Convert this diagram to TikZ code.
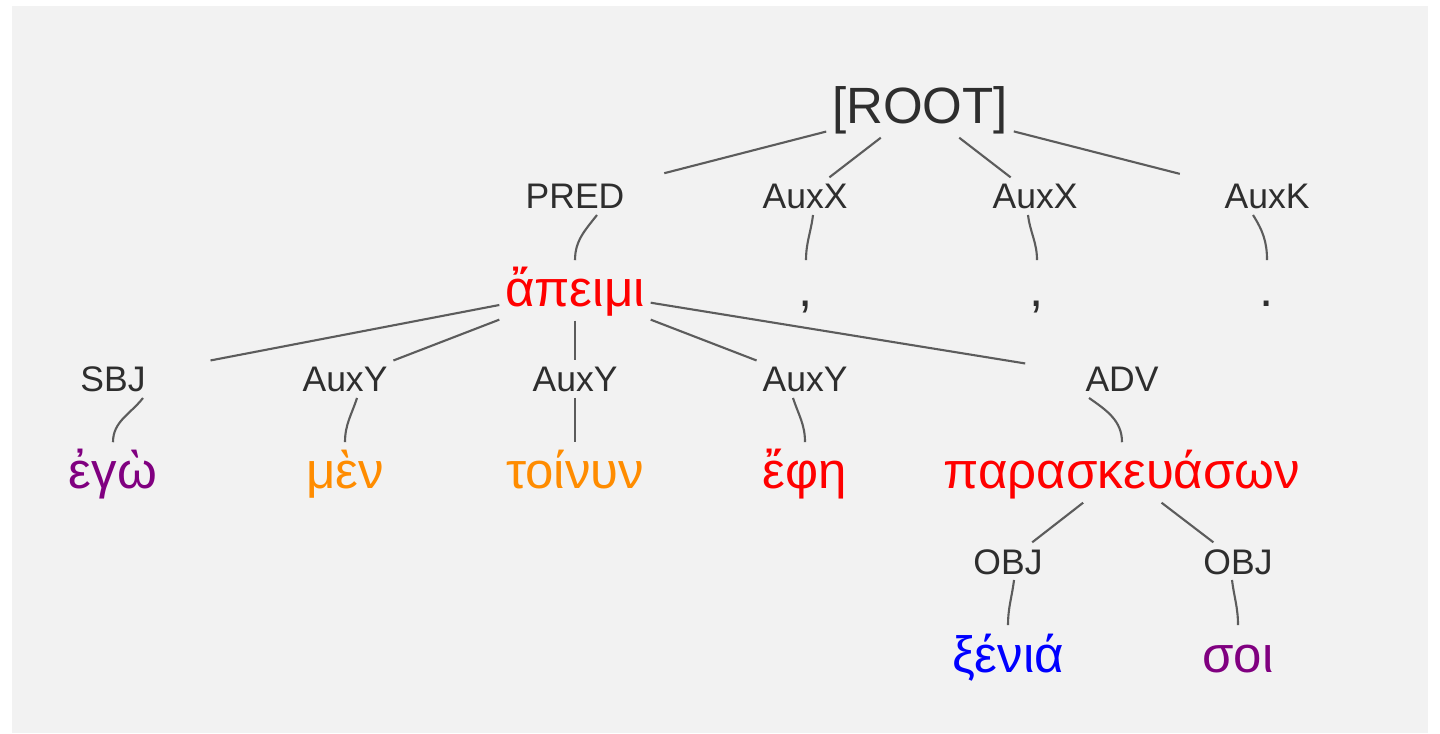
\documentclass[tikz,border=0pt]{standalone}
\usepackage{fontspec}
\setmainfont{Liberation Sans}
\usepackage{xcolor}
\usepackage{tikz}
\usetikzlibrary{positioning,calc}
\definecolor{bggray}{HTML}{F2F2F2}
\definecolor{edgegray}{HTML}{5C5C5C}
\definecolor{lblgray}{HTML}{2E2E2E}
\definecolor{wpurple}{HTML}{800080}
\definecolor{worange}{HTML}{FF8C00}
\definecolor{wred}{HTML}{FF0000}
\definecolor{wblue}{HTML}{0000FF}

\begin{document}
\begin{tikzpicture}[x=0.01cm, y=0.01cm,
        word/.style={anchor=base, inner sep=1.5pt, text=lblgray, font=\fontsize{14.5}{17}\selectfont, text height=11.6pt, text depth=2.2pt},
        rel/.style={anchor=base, inner sep=1.5pt, text=lblgray, font=\fontsize{10.1}{12}\selectfont, text height=7.3pt, text depth=0pt},
        link/.style={draw=edgegray, line width=0.6pt}]
        \useasboundingbox (0,0) rectangle (1440,-734);
        \fill[bggray] (12,-6) rectangle (1428,-733);

        \node[word] (root) at (920,-124) {[ROOT]};

        % first level
        \node[rel] (pred) at (575,-209) {PRED};
        \node[rel] (auxx1) at (805,-209) {AuxX};
        \node[rel] (auxx2) at (1035,-209) {AuxX};
        \node[rel] (auxk) at (1267,-209) {AuxK};
        \node[word, text=wred] (apeimi) at (575,-307) {ἄπειμι};
        \node[word] (comma1) at (806,-307) {,};
        \node[word] (comma2) at (1037,-307) {,};
        \node[word] (stop) at (1267,-307) {.};

        % second level
        \node[rel] (sbj) at (113,-392) {SBJ};
        \node[rel] (auxy1) at (345,-392) {AuxY};
        \node[rel] (auxy2) at (575,-392) {AuxY};
        \node[rel] (auxy3) at (805,-392) {AuxY};
        \node[rel] (adv) at (1122,-392) {ADV};
        \node[word, text=wpurple] (ego) at (113,-489) {ἐγὼ};
        \node[word, text=worange] (men) at (345,-489) {μὲν};
        \node[word, text=worange] (toinun) at (575,-489) {τοίνυν};
        \node[word, text=wred] (ephe) at (805,-489) {ἔφη};
        \node[word, text=wred] (parask) at (1122,-489) {παρασκευάσων};

        % third level
        \node[rel] (obj1) at (1008,-574) {OBJ};
        \node[rel] (obj2) at (1238,-574) {OBJ};
        \node[word, text=wblue] (xenia) at (1008,-672) {ξένιά};
        \node[word, text=wpurple] (soi) at (1238,-672) {σοι};

        \draw[link, shorten >=0.35cm] (root) -- (pred);
        \draw[link] (root) -- (auxx1);
        \draw[link] (root) -- (auxx2);
        \draw[link, shorten >=0.4cm] (root) -- (auxk);
        \draw[link] ($(pred.south)+(22,0)$) to[out=-128, in=90] (apeimi.north);
        \draw[link] ($(auxx1.south)+(8,0)$) to[out=-97, in=90] (comma1.north);
        \draw[link] ($(auxx2.south)+(-7,0)$) to[out=-83, in=90] (comma2.north);
        \draw[link] ($(auxk.south)+(-14,0)$) to[out=-58, in=90] (stop.north);

        \draw[link, shorten >=0.6cm] (apeimi) -- (sbj);
        \draw[link] (apeimi) -- (auxy1);
        \draw[link] (apeimi) -- (auxy2);
        \draw[link] (apeimi) -- (auxy3);
        \draw[link, shorten >=0.55cm] (apeimi) -- (adv);
        \draw[link] ($(sbj.south)+(30,0)$) to[out=-128, in=90] (ego.north);
        \draw[link] ($(auxy1.south)+(12,0)$) to[out=-108, in=90] (men.north);
        \draw[link] (auxy2.south) -- (toinun.north);
        \draw[link] ($(auxy3.south)+(-12,0)$) to[out=-72, in=90] (ephe.north);
        \draw[link] ($(adv.south)+(-33,0)$) to[out=-35, in=90] (parask.north);

        \draw[link] (parask) -- (obj1);
        \draw[link] (parask) -- (obj2);
        \draw[link] ($(obj1.south)+(6,0)$) to[out=-97, in=90] (xenia.north);
        \draw[link] ($(obj2.south)+(-6,0)$) to[out=-83, in=90] (soi.north);
    \end{tikzpicture}
\end{document}
